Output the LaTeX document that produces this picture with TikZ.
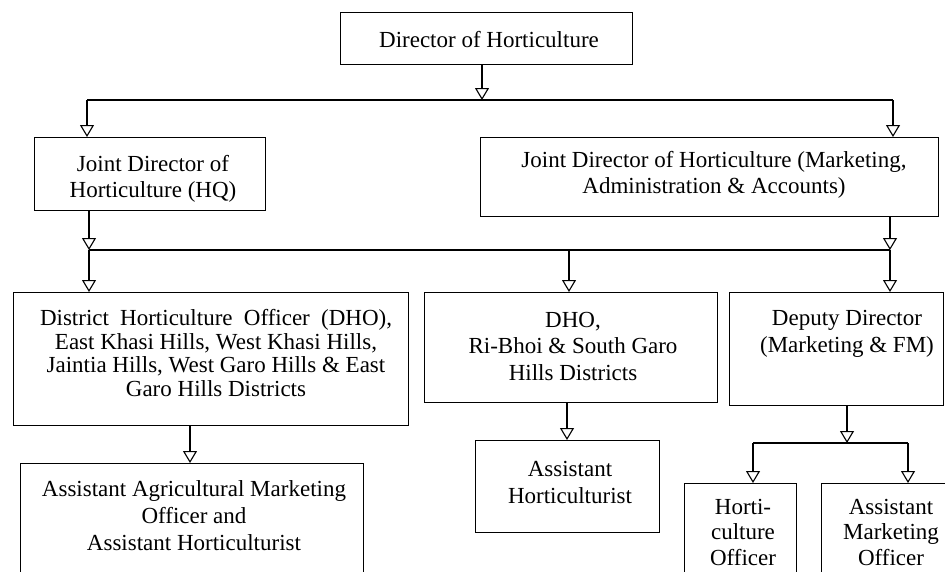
\documentclass[tikz,border=0pt]{standalone}
\usepackage{fontspec}
\setmainfont{Liberation Serif}
\usetikzlibrary{arrows.meta}
\begin{document}
\begin{tikzpicture}[x=1pt,y=-1pt,line width=1.1pt,
  box/.style={draw,line width=1.1pt,anchor=north west,inner sep=0pt},
  txt/.style={align=center,inner sep=0pt,font=\fontsize{23}{26.5}\selectfont},
  arr/.style={-{Triangle[open,width=14pt,length=12pt]}}]
\useasboundingbox (0,0) rectangle (945,571);
\clip (0,0) rectangle (945,571);
% boxes
\node[box,minimum width=292pt,minimum height=52pt] (dir) at (340,12) {};
\node[box,minimum width=231pt,minimum height=73pt] (jdhq) at (34,137) {};
\node[box,minimum width=458pt,minimum height=79pt] (jdm) at (480,137) {};
\node[box,minimum width=395pt,minimum height=133pt] (dho1) at (13,292) {};
\node[box,minimum width=293pt,minimum height=110pt] (dho2) at (424,292) {};
\node[box,minimum width=214pt,minimum height=113pt] (dd) at (729,292) {};
\node[box,minimum width=343pt,minimum height=130pt] (aamo) at (20,463) {};
\node[box,minimum width=184pt,minimum height=92pt] (ah) at (475,440) {};
\node[box,minimum width=112pt,minimum height=110pt] (ho) at (684,483) {};
\node[box,minimum width=140pt,minimum height=110pt] (amo) at (821,483) {};
% texts
\node[txt] (tdir) at (489,40) {Director of Horticulture};
\node[txt] (tjdhq) at (153,179) {Joint Director of\\Horticulture (HQ)};
\node[txt] (tjdm) at (714,175) {Joint Director of Horticulture (Marketing,\\Administration \& Accounts)};
\node[txt,font=\fontsize{23}{23.4}\selectfont] (tdho1) at (216,353) {\makebox[352pt][s]{District Horticulture Officer (DHO),}\\East Khasi Hills, West Khasi Hills,\\Jaintia Hills, West Garo Hills \& East\\Garo Hills Districts};
\node[txt] (tdho2) at (573,346) {DHO,\\Ri-Bhoi \& South Garo\\Hills Districts};
\node[txt] (tdd) at (847,334) {Deputy Director\\(Marketing \& FM)};
\node[txt,font=\fontsize{23}{27}\selectfont] (taamo) at (194,516) {Assistant Agricultural Marketing\\Officer and\\Assistant Horticulturist};
\node[txt,font=\fontsize{23}{27}\selectfont] (tah) at (570,482) {Assistant\\Horticulturist};
\node[txt,font=\fontsize{23}{25.5}\selectfont] (tho) at (743,532) {Horti-\\culture\\Officer};
\node[txt,font=\fontsize{23}{25.5}\selectfont] (tamo) at (891,532) {Assistant\\Marketing\\Officer};
% connectors
\coordinate (b1l) at (87,100);
\coordinate (b1r) at (893,100);
\coordinate (b1m) at (482,100);
\draw[arr] (b1m |- dir.south) -- (b1m);
\draw (b1l) -- (b1r);
\draw[arr] (b1l) -- (b1l |- jdhq.north);
\draw[arr] (b1r) -- (b1r |- jdm.north);
\coordinate (b2l) at (89,250);
\coordinate (b2m) at (569,250);
\coordinate (b2r) at (890,250);
\draw[arr] (b2l |- jdhq.south) -- (b2l);
\draw[arr] (b2r |- jdm.south) -- (b2r);
\draw (b2l) -- (b2r);
\draw[arr] (b2l) -- (b2l |- dho1.north);
\draw[arr] (b2m) -- (b2m |- dho2.north);
\draw[arr] (b2r) -- (b2r |- dd.north);
\coordinate (d1) at (190,425);
\draw[arr] (d1 |- dho1.south) -- (d1 |- aamo.north);
\coordinate (d2) at (567,402);
\draw[arr] (d2 |- dho2.south) -- (d2 |- ah.north);
\coordinate (b3) at (847,443);
\coordinate (b3l) at (753,443);
\coordinate (b3r) at (908,443);
\draw[arr] (b3 |- dd.south) -- (b3);
\draw (b3l) -- (b3r);
\draw[arr] (b3l) -- (b3l |- ho.north);
\draw[arr] (b3r) -- (b3r |- amo.north);
\end{tikzpicture}
\end{document}
